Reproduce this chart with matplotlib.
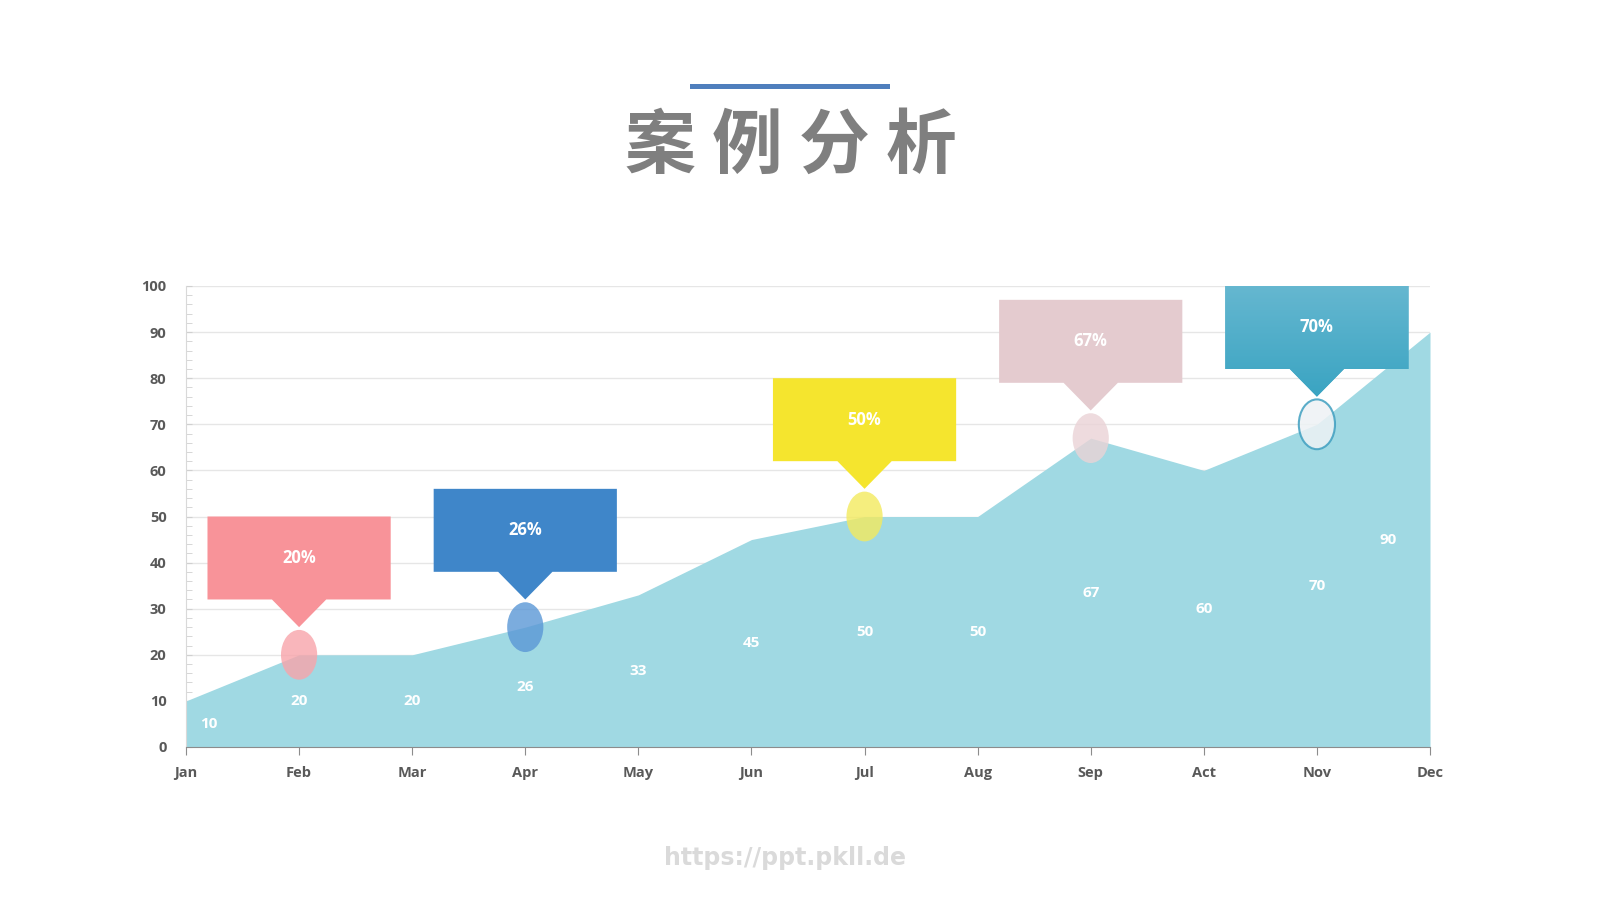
import matplotlib
matplotlib.use("Agg")
from matplotlib import pyplot as plt
from matplotlib.patches import Polygon, Ellipse, Rectangle
from matplotlib.colors import LinearSegmentedColormap
import numpy as np

months = ["Jan", "Feb", "Mar", "Apr", "May", "Jun", "Jul", "Aug", "Sep", "Act", "Nov", "Dec"]
values = [10, 20, 20, 26, 33, 45, 50, 50, 67, 60, 70, 90]

# callouts: month index, text, box colour, marker colour
callout_idx = [1, 3, 6, 8, 10]
callout_text = ["20%", "26%", "50%", "67%", "70%"]
box_colors = ["#f89399", "#3f86c9", "#f5e52e", "#e4cbcf", "#4aaac8"]
dot_colors = ["#f8a4aa", "#5a97d6", "#f3ea5e", "#ead3d6", "#eef2f5"]

AREA = "#a0d9e3"
TXT = "#595959"
FONT = "Open Sans"

fig = plt.figure(figsize=(16, 9), dpi=100)
fig.patch.set_facecolor("white")

ax = fig.add_axes([186 / 1600, 1 - 747 / 900, (1430 - 186) / 1600, (747 - 286) / 900])
x = list(range(len(months)))
ax.fill_between(x, values, 0, color=AREA, lw=0, zorder=2)

ax.set_yticks(range(0, 101, 10))
ax.set_yticks(range(0, 101, 2), minor=True)
ax.set_xticks(x)
ax.set_xticklabels(months)
ax.grid(axis="y", color="#e6e6e6", lw=1, zorder=0)
for sp in ["top", "right"]:
    ax.spines[sp].set_visible(False)
ax.spines["left"].set_color("#d9d9d9")
ax.spines["bottom"].set_color("#8c8c8c")
ax.tick_params(axis="y", which="both", direction="in", colors="#d0d0d0", length=4,
               pad=14, labelcolor=TXT, labelsize=10.5)
ax.tick_params(axis="x", colors="#8c8c8c", length=6, pad=8, labelcolor=TXT, labelsize=10.5)
for lab in ax.get_xticklabels() + ax.get_yticklabels():
    lab.set_fontfamily(FONT)
    lab.set_fontweight("bold")

# value labels inside the area
for i, v in enumerate(values):
    dx = 0
    if i == 0:
        dx = 0.2
    elif i == len(values) - 1:
        dx = -0.37
    ax.text(i + dx, v / 2, str(v), color="white", fontsize=11, fontweight="bold",
            family=FONT, ha="center", va="center", zorder=3)

# callout boxes with pointer + ellipse markers
for k, i in enumerate(callout_idx):
    v = values[i]
    bottom = v + 12
    top = bottom + 18
    tip = bottom - 6
    hw, pw = 0.81, 0.24
    pts = [(i - hw, top), (i + hw, top), (i + hw, bottom), (i + pw, bottom),
           (i, tip), (i - pw, bottom), (i - hw, bottom)]
    last = k == len(callout_idx) - 1
    poly = Polygon(pts, closed=True, facecolor=box_colors[k], edgecolor="none",
                   zorder=4, clip_on=False)
    ax.add_patch(poly)
    if last:
        # vertical gradient on the last box
        grad = np.linspace(0, 1, 100).reshape(-1, 1)
        cmap = LinearSegmentedColormap.from_list("g", ["#65b7d0", "#3aa4c2"])
        img = ax.imshow(grad, extent=[i - hw, i + hw, tip, top], origin="upper",
                        cmap=cmap, aspect="auto", zorder=4.5)
        img.set_clip_path(poly)
        img.set_clip_box(None)
    ax.text(i, (top + bottom) / 2, callout_text[k], color="white", fontsize=12,
            fontweight="bold", family=FONT, ha="center", va="center", zorder=5)
    if last:
        ax.add_patch(Ellipse((i, v), 0.32, 10.8, facecolor=dot_colors[k], alpha=0.85,
                             edgecolor="#3f9fc0", lw=1.5, zorder=4))
    else:
        ax.add_patch(Ellipse((i, v), 0.32, 10.8, facecolor=dot_colors[k], alpha=0.8,
                             edgecolor="none", zorder=4))

ax.set_xlim(0, 11)
ax.set_ylim(0, 100)

# title bar and title
fig.add_artist(Rectangle((690 / 1600, 1 - 89 / 900), 200 / 1600, 5 / 900,
                         facecolor="#4f7fbd", edgecolor="none", transform=fig.transFigure))
fig.text(791 / 1600, 1 - 147 / 900, "案 例 分 析", fontsize=51, fontweight="heavy",
         family=["Noto Sans CJK SC", "DejaVu Sans"], color="#7f7f7f", ha="center", va="center")

fig.text(785 / 1600, 1 - 858 / 900, "https://ppt.pkll.de", fontsize=17, fontweight="bold",
         color="#dadada", family="DejaVu Sans", ha="center", va="center")

fig.savefig("out.png", dpi=100, facecolor="white")
